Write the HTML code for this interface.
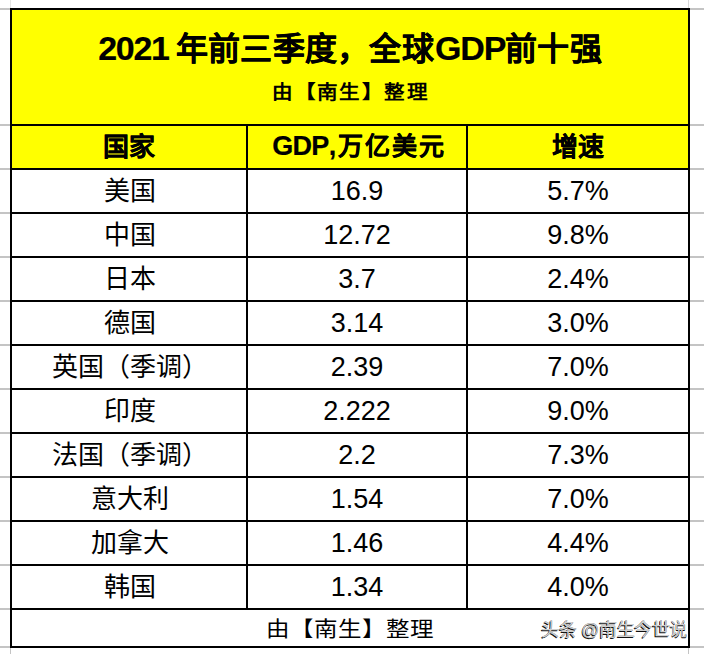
<!DOCTYPE html>
<html lang="zh-CN"><head><meta charset="utf-8">
<style>
html,body{margin:0;padding:0;background:#fff;}
body{width:704px;height:654px;position:relative;overflow:hidden;font-family:"Liberation Sans",sans-serif;color:#000;}
.a{position:absolute;}
.hl{position:absolute;height:2px;background:#000;}
.vl{position:absolute;width:2px;background:#000;}
.g{position:absolute;background:#c4c4c4;}
.c{position:absolute;display:flex;align-items:center;justify-content:center;white-space:nowrap;line-height:1;}
.c span{display:inline-block;position:relative;}
</style></head><body>

<div class="g" style="left:0;top:8px;width:10px;height:2px"></div>
<div class="g" style="left:690px;top:8px;width:14px;height:2px"></div>
<div class="g" style="left:0;top:124px;width:10px;height:2px"></div>
<div class="g" style="left:690px;top:124px;width:14px;height:2px"></div>
<div class="g" style="left:0;top:168px;width:10px;height:2px"></div>
<div class="g" style="left:690px;top:168px;width:14px;height:2px"></div>
<div class="g" style="left:0;top:212px;width:10px;height:2px"></div>
<div class="g" style="left:690px;top:212px;width:14px;height:2px"></div>
<div class="g" style="left:0;top:256px;width:10px;height:2px"></div>
<div class="g" style="left:690px;top:256px;width:14px;height:2px"></div>
<div class="g" style="left:0;top:300px;width:10px;height:2px"></div>
<div class="g" style="left:690px;top:300px;width:14px;height:2px"></div>
<div class="g" style="left:0;top:344px;width:10px;height:2px"></div>
<div class="g" style="left:690px;top:344px;width:14px;height:2px"></div>
<div class="g" style="left:0;top:388px;width:10px;height:2px"></div>
<div class="g" style="left:690px;top:388px;width:14px;height:2px"></div>
<div class="g" style="left:0;top:432px;width:10px;height:2px"></div>
<div class="g" style="left:690px;top:432px;width:14px;height:2px"></div>
<div class="g" style="left:0;top:476px;width:10px;height:2px"></div>
<div class="g" style="left:690px;top:476px;width:14px;height:2px"></div>
<div class="g" style="left:0;top:520px;width:10px;height:2px"></div>
<div class="g" style="left:690px;top:520px;width:14px;height:2px"></div>
<div class="g" style="left:0;top:564px;width:10px;height:2px"></div>
<div class="g" style="left:690px;top:564px;width:14px;height:2px"></div>
<div class="g" style="left:0;top:608px;width:10px;height:2px"></div>
<div class="g" style="left:690px;top:608px;width:14px;height:2px"></div>
<div class="g" style="left:0;top:646px;width:10px;height:2px"></div>
<div class="g" style="left:690px;top:646px;width:14px;height:2px"></div>
<div class="g" style="left:10px;top:0;width:1px;height:8px;background:#e4e4e4"></div>
<div class="g" style="left:688px;top:0;width:1px;height:8px;background:#d8d8d8"></div>
<div class="g" style="left:10px;top:648px;width:1px;height:6px"></div>
<div class="g" style="left:688px;top:648px;width:1px;height:6px"></div>
<div class="a" style="left:12px;top:10px;width:676px;height:158px;background:#ffff00"></div>
<div class="hl" style="left:10px;top:8px;width:680px"></div>
<div class="vl" style="left:10px;top:8px;height:640px"></div>
<div class="vl" style="left:688px;top:8px;height:640px"></div>
<div class="hl" style="left:10px;top:646px;width:680px"></div>
<div class="hl" style="left:10px;top:124px;width:680px"></div>
<div class="hl" style="left:10px;top:168px;width:680px"></div>
<div class="hl" style="left:10px;top:212px;width:680px"></div>
<div class="hl" style="left:10px;top:256px;width:680px"></div>
<div class="hl" style="left:10px;top:300px;width:680px"></div>
<div class="hl" style="left:10px;top:344px;width:680px"></div>
<div class="hl" style="left:10px;top:388px;width:680px"></div>
<div class="hl" style="left:10px;top:432px;width:680px"></div>
<div class="hl" style="left:10px;top:476px;width:680px"></div>
<div class="hl" style="left:10px;top:520px;width:680px"></div>
<div class="hl" style="left:10px;top:564px;width:680px"></div>
<div class="hl" style="left:10px;top:608px;width:680px"></div>
<div class="vl" style="left:246px;top:124px;height:486px"></div>
<div class="vl" style="left:466px;top:124px;height:486px"></div>
<div class="c" style="left:12px;width:676px;top:10px;height:114px"><span style="font-size:32px;font-weight:900;letter-spacing:0.3px;padding-left:0.3px;left:0px;top:-19px;-webkit-text-stroke:0.2px #000;"><i style="font-style:normal;font-size:34px;letter-spacing:-1.3px;margin-right:7px">2021</i>年前三季度，全球<i style="font-style:normal;font-size:34px;letter-spacing:-1.2px;margin-left:1px">GDP</i>前十强</span></div>
<div class="c" style="left:12px;width:676px;top:10px;height:114px"><span style="font-size:19px;font-weight:900;letter-spacing:1.8px;padding-left:1.8px;left:0px;top:25px;transform:scaleX(1.08);">由【南生】整理</span></div>
<div class="c" style="left:12px;width:234px;top:126px;height:42px"><span style="font-size:26px;font-weight:900;-webkit-text-stroke:0.2px #000;">国家</span></div>
<div class="c" style="left:248px;width:218px;top:126px;height:42px"><span style="font-size:25px;font-weight:900;letter-spacing:1.9px;padding-left:1.9px;left:1px;top:-1px;-webkit-text-stroke:0.2px #000;"><i style="font-style:normal;font-size:27px;letter-spacing:-0.7px">GDP</i><i style="font-style:normal;font-size:27px;margin:0 0 0 0">,</i>万亿美元</span></div>
<div class="c" style="left:468px;width:220px;top:126px;height:42px"><span style="font-size:26px;font-weight:900;-webkit-text-stroke:0.2px #000;">增速</span></div>
<div class="c" style="left:12px;width:234px;top:170px;height:42px"><span style="font-size:26px;left:1px;top:0px;">美国</span></div>
<div class="c" style="left:248px;width:218px;top:170px;height:42px"><span style="font-size:27px;">16.9</span></div>
<div class="c" style="left:468px;width:220px;top:170px;height:42px"><span style="font-size:27px;">5.7%</span></div>
<div class="c" style="left:12px;width:234px;top:214px;height:42px"><span style="font-size:26px;left:1px;top:0px;">中国</span></div>
<div class="c" style="left:248px;width:218px;top:214px;height:42px"><span style="font-size:27px;">12.72</span></div>
<div class="c" style="left:468px;width:220px;top:214px;height:42px"><span style="font-size:27px;">9.8%</span></div>
<div class="c" style="left:12px;width:234px;top:258px;height:42px"><span style="font-size:26px;left:1px;top:0px;">日本</span></div>
<div class="c" style="left:248px;width:218px;top:258px;height:42px"><span style="font-size:27px;">3.7</span></div>
<div class="c" style="left:468px;width:220px;top:258px;height:42px"><span style="font-size:27px;">2.4%</span></div>
<div class="c" style="left:12px;width:234px;top:302px;height:42px"><span style="font-size:26px;left:1px;top:0px;">德国</span></div>
<div class="c" style="left:248px;width:218px;top:302px;height:42px"><span style="font-size:27px;">3.14</span></div>
<div class="c" style="left:468px;width:220px;top:302px;height:42px"><span style="font-size:27px;">3.0%</span></div>
<div class="c" style="left:12px;width:234px;top:346px;height:42px"><span style="font-size:26px;left:1px;top:0px;">英国（季调）</span></div>
<div class="c" style="left:248px;width:218px;top:346px;height:42px"><span style="font-size:27px;">2.39</span></div>
<div class="c" style="left:468px;width:220px;top:346px;height:42px"><span style="font-size:27px;">7.0%</span></div>
<div class="c" style="left:12px;width:234px;top:390px;height:42px"><span style="font-size:26px;left:1px;top:0px;">印度</span></div>
<div class="c" style="left:248px;width:218px;top:390px;height:42px"><span style="font-size:27px;">2.222</span></div>
<div class="c" style="left:468px;width:220px;top:390px;height:42px"><span style="font-size:27px;">9.0%</span></div>
<div class="c" style="left:12px;width:234px;top:434px;height:42px"><span style="font-size:26px;left:1px;top:0px;">法国（季调）</span></div>
<div class="c" style="left:248px;width:218px;top:434px;height:42px"><span style="font-size:27px;">2.2</span></div>
<div class="c" style="left:468px;width:220px;top:434px;height:42px"><span style="font-size:27px;">7.3%</span></div>
<div class="c" style="left:12px;width:234px;top:478px;height:42px"><span style="font-size:26px;left:1px;top:0px;">意大利</span></div>
<div class="c" style="left:248px;width:218px;top:478px;height:42px"><span style="font-size:27px;">1.54</span></div>
<div class="c" style="left:468px;width:220px;top:478px;height:42px"><span style="font-size:27px;">7.0%</span></div>
<div class="c" style="left:12px;width:234px;top:522px;height:42px"><span style="font-size:26px;left:1px;top:0px;">加拿大</span></div>
<div class="c" style="left:248px;width:218px;top:522px;height:42px"><span style="font-size:27px;">1.46</span></div>
<div class="c" style="left:468px;width:220px;top:522px;height:42px"><span style="font-size:27px;">4.4%</span></div>
<div class="c" style="left:12px;width:234px;top:566px;height:42px"><span style="font-size:26px;left:1px;top:0px;">韩国</span></div>
<div class="c" style="left:248px;width:218px;top:566px;height:42px"><span style="font-size:27px;">1.34</span></div>
<div class="c" style="left:468px;width:220px;top:566px;height:42px"><span style="font-size:27px;">4.0%</span></div>
<div class="c" style="left:12px;width:676px;top:610px;height:36px"><span style="font-size:21px;letter-spacing:0.4px;padding-left:0.4px;transform:scaleX(1.12);">由【南生】整理</span></div>
<div class="a" style="left:541px;top:619px;white-space:nowrap;font-size:18px;letter-spacing:-0.35px;line-height:22px;color:#d0d0d0;text-shadow:-0.8px 0.8px 0.6px #111, 0 0 0.5px #444">头条 @南生今世说</div>
</body></html>
